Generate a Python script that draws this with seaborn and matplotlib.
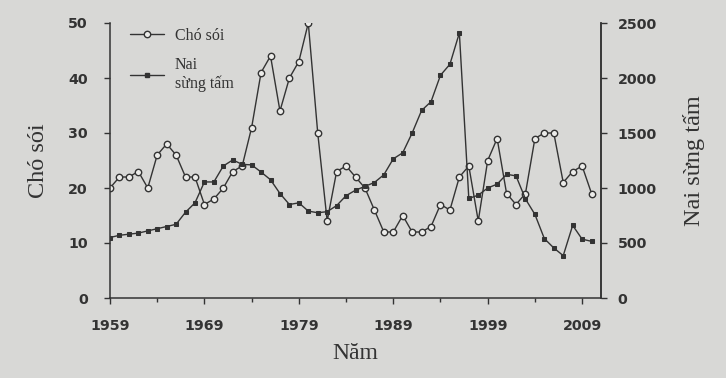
import numpy as np
import pandas as pd
import matplotlib
matplotlib.use("Agg")
import matplotlib.pyplot as plt
from matplotlib.lines import Line2D
import seaborn as sns

# data (1959-2010)
years = list(range(1959, 2011))
wolves = [20, 22, 22, 23, 20, 26, 28, 26, 22, 22,
          17, 18, 20, 23, 24, 31, 41, 44, 34, 40,
          43, 50, 30, 14, 23, 24, 22, 20, 16, 12,
          12, 15, 12, 12, 13, 17, 16, 22, 24, 14,
          25, 29, 19, 17, 19, 29, 30, 30, 21, 23,
          24, 19]
moose = [550, 570, 580, 590, 610, 630, 650, 670, 780, 865,
         1055, 1055, 1200, 1255, 1215, 1210, 1145, 1075, 950, 850,
         865, 790, 775, 785, 840, 930, 980, 1015, 1050, 1120,
         1265, 1320, 1500, 1705, 1785, 2025, 2125, 2410, 905, 935,
         1000, 1035, 1125, 1110, 900, 760, 540, 455, 385, 660,
         535, 515]
xticks = [1959, 1969, 1979, 1989, 1999, 2009]
left_ticks = [0, 10, 20, 30, 40, 50]
right_ticks = [0, 500, 1000, 1500, 2000, 2500]

df = pd.DataFrame({"year": years, "wolves": wolves, "moose": moose})

sns.set_style("ticks")
bg = "#d8d8d6"
ink = "#333333"
serif = ["Liberation Serif", "DejaVu Serif"]
plt.rcParams["font.family"] = ["DejaVu Sans"]

fig = plt.figure(figsize=(7.26, 3.78), dpi=100, facecolor=bg)
ax = fig.add_axes([110 / 726, 80 / 378, 491 / 726, 275 / 378])
ax.set_facecolor(bg)
ax2 = ax.twinx()

sns.lineplot(data=df, x="year", y="wolves", ax=ax, color=ink, lw=1.0,
             marker="o", markersize=4.6, markerfacecolor="#ececea",
             markeredgecolor=ink, markeredgewidth=1.0)
sns.lineplot(data=df, x="year", y="moose", ax=ax2, color=ink, lw=1.0,
             marker="s", markersize=3.2, markerfacecolor=ink,
             markeredgecolor=ink)

ax.set_xlim(1959, 2011)
ax.set_ylim(0, 50)
ax2.set_ylim(0, 2500)
ax.set_xticks(xticks)
ax.set_xticks(list(range(1964, 2010, 10)), minor=True)
ax.set_yticks(left_ticks)
ax2.set_yticks(right_ticks)

for a in (ax, ax2):
    a.spines["top"].set_visible(False)
    for s in a.spines.values():
        s.set_color(ink)
        s.set_linewidth(1.1)
    a.tick_params(colors=ink, width=1.0, length=4, direction="out")
    for lab in a.get_xticklabels() + a.get_yticklabels():
        lab.set_fontweight("bold")
        lab.set_fontsize(10.3)
        lab.set_color(ink)
ax.tick_params(axis="x", which="minor", length=3, width=1.0, colors=ink)
ax.tick_params(axis="x", pad=11)
ax.tick_params(axis="y", pad=12)
ax2.tick_params(axis="y", pad=8)
ax2.spines["left"].set_visible(False)
ax2.spines["bottom"].set_visible(False)

ax.set_xlabel("Năm", family=serif, fontsize=17, color=ink, labelpad=7)
ax.set_ylabel("Chó sói", family=serif, fontsize=17.5, color=ink, labelpad=14)
ax2.set_ylabel("Nai sừng tấm", family=serif, fontsize=17.5, color=ink,
               labelpad=19)

handles = [
    Line2D([], [], color=ink, lw=1.0, marker="o", markersize=4.6,
           markerfacecolor="#ececea", markeredgecolor=ink),
    Line2D([], [], color=ink, lw=1.0, marker="s", markersize=3.2,
           markerfacecolor=ink),
]
leg = ax.legend(handles, ["Chó sói", "Nai\nsừng tấm"], loc="upper left",
                bbox_to_anchor=(0.012, 1.035), frameon=False, handlelength=2.1,
                handletextpad=0.7, labelspacing=0.85,
                prop={"family": serif, "size": 11.5})
for t in leg.get_texts():
    t.set_color(ink)

fig.savefig("out.png", dpi=100, facecolor=bg)
